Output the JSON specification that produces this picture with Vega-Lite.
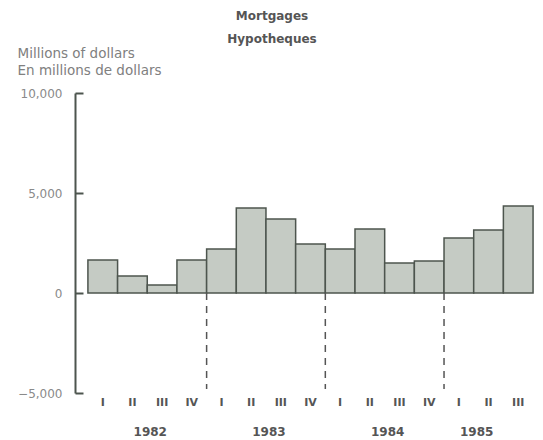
{
  "$schema": "https://vega.github.io/schema/vega-lite/v6.json",
  "width": 468,
  "height": 300,
  "autosize": {"type": "none"},
  "padding": {"left": 75, "top": 93, "right": 0, "bottom": 47},
  "background": "#ffffff",
  "config": {
    "font": "DejaVu Sans",
    "view": {"stroke": null}
  },
  "title": {
    "text": ["Mortgages", "Hypotheques"],
    "anchor": "middle",
    "dx": -37,
    "offset": 0,
    "lineHeight": 23,
    "fontSize": 12,
    "fontWeight": "bold",
    "color": "#555555"
  },
  "datasets": {
    "bars": [
      {"q": "1982 I", "value": 1650},
      {"q": "1982 II", "value": 850},
      {"q": "1982 III", "value": 400},
      {"q": "1982 IV", "value": 1650},
      {"q": "1983 I", "value": 2200},
      {"q": "1983 II", "value": 4250},
      {"q": "1983 III", "value": 3700},
      {"q": "1983 IV", "value": 2450},
      {"q": "1984 I", "value": 2200},
      {"q": "1984 II", "value": 3200},
      {"q": "1984 III", "value": 1500},
      {"q": "1984 IV", "value": 1600},
      {"q": "1985 I", "value": 2750},
      {"q": "1985 II", "value": 3150},
      {"q": "1985 III", "value": 4350}
    ],
    "dividers": [
      {"q": "1983 I"},
      {"q": "1984 I"},
      {"q": "1985 I"}
    ],
    "years": [
      {"q": "1982 III", "year": "1982"},
      {"q": "1983 III", "year": "1983"},
      {"q": "1984 III", "year": "1984"},
      {"q": "1985 II", "year": "1985"}
    ]
  },
  "layer": [
    {
      "data": {"name": "bars"},
      "mark": {"type": "bar", "fill": "#c5cbc4", "stroke": "#4d554e", "strokeWidth": 1.5},
      "encoding": {
        "x": {
          "field": "q",
          "type": "nominal",
          "scale": {"paddingInner": 0, "paddingOuter": 0.385, "align": 0.565},
          "axis": {
            "title": null,
            "domain": false,
            "ticks": false,
            "labelAngle": 0,
            "labelPadding": 3,
            "labelFontSize": 11,
            "labelFontWeight": "bold",
            "labelColor": "#555555",
            "labelExpr": "split(datum.value, ' ')[1]"
          }
        },
        "y": {
          "field": "value",
          "type": "quantitative",
          "scale": {"domain": [-5000, 10000], "nice": false, "zero": false},
          "axis": {
            "values": [-5000, 0, 5000, 10000],
            "format": ",d",
            "grid": false,
            "domainColor": "#4d554e",
            "domainWidth": 2,
            "tickColor": "#4d554e",
            "tickWidth": 2,
            "tickSize": -8,
            "labelPadding": 21,
            "labelFontSize": 12,
            "labelColor": "#8a8a8a",
            "title": ["Millions of dollars", "En millions de dollars"],
            "titleAngle": 0,
            "titleAlign": "left",
            "titleBaseline": "top",
            "titleX": -58,
            "titleY": -47,
            "titleFontSize": 13.5,
            "titleFontWeight": "normal",
            "titleColor": "#808080",
            "titleLineHeight": 17
          }
        }
      }
    },
    {
      "mark": {"type": "rule", "color": "#4d554e", "strokeWidth": 2},
      "encoding": {"y": {"datum": 0}}
    },
    {
      "data": {"name": "dividers"},
      "mark": {"type": "rule", "color": "#555555", "strokeWidth": 1.5, "strokeDash": [7, 6]},
      "encoding": {
        "x": {"field": "q", "type": "nominal", "bandPosition": 0},
        "y": {"datum": 0},
        "y2": {"datum": -4800}
      }
    },
    {
      "data": {"name": "years"},
      "mark": {"type": "text", "fontSize": 12, "fontWeight": "bold", "color": "#555555", "dy": 39, "dx": 3},
      "encoding": {
        "x": {"field": "q", "type": "nominal", "bandPosition": 0},
        "y": {"datum": -5000},
        "text": {"field": "year"}
      }
    }
  ]
}
